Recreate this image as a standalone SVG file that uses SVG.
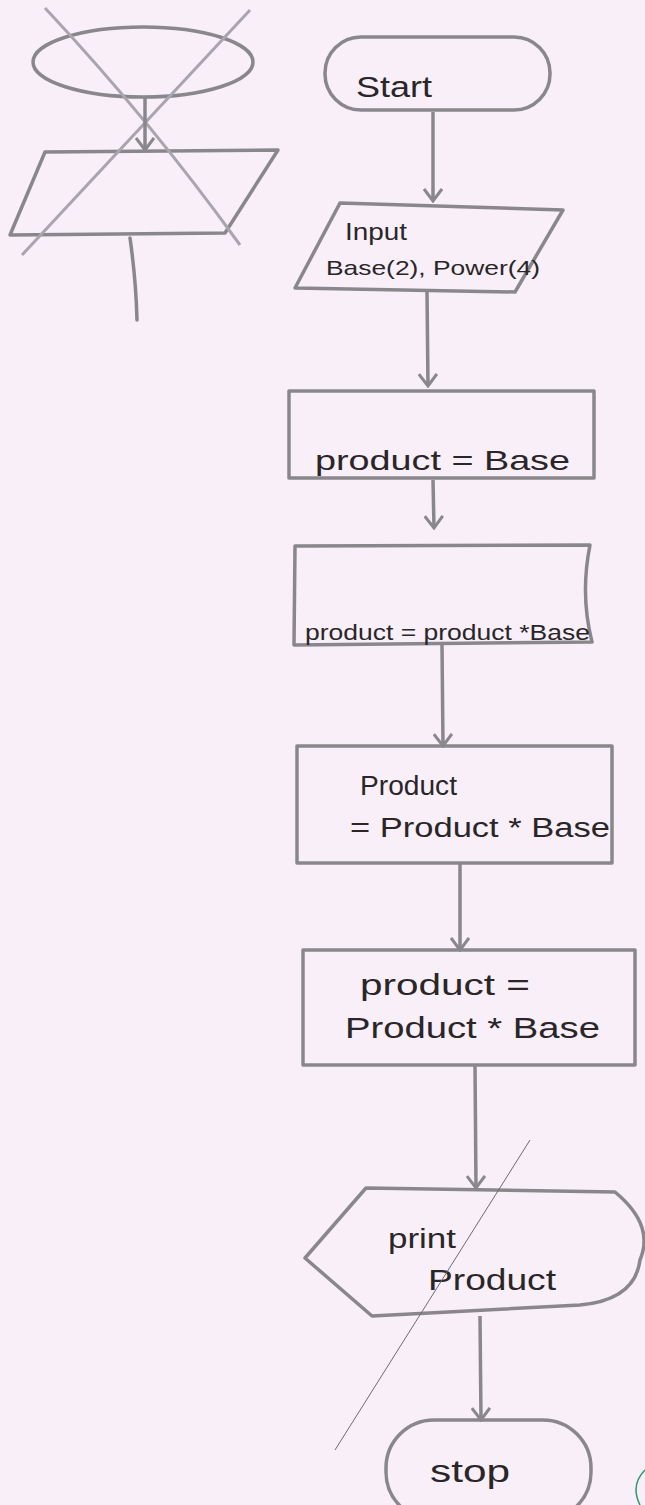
<svg xmlns="http://www.w3.org/2000/svg" width="645" height="1505" viewBox="0 0 645 1505">
<style>
.s{fill:none;stroke:#8a878c;stroke-width:3.5;stroke-linejoin:round;stroke-linecap:round}
.x{fill:none;stroke:#a9a4ad;stroke-width:3}
.t{font-family:"Liberation Sans",Arial,sans-serif;fill:#2a2628}
.c{fill:none;stroke:#8a878c;stroke-width:3.5;marker-end:url(#a)}
</style>
<defs>
<marker id="a" viewBox="0 0 20 20" refX="18" refY="10" markerWidth="20" markerHeight="20" markerUnits="userSpaceOnUse" orient="auto">
<polyline points="6,1 18,10 6,19" fill="none" stroke="#8a878c" stroke-width="3"/>
</marker>
</defs>
<rect width="645" height="1505" fill="#f8eff9"/>
<g id="crossed">
<ellipse cx="143" cy="62" rx="110" ry="35" class="s"/>
<polygon points="45,152 278,150 225,233 10,235" class="s"/>
<path d="M130,238 Q136,280 137,320" class="s"/>
<path d="M45,8 Q150,120 240,245" class="x"/>
<path d="M250,10 L22,255" class="x"/>
</g>
<g id="start">
<rect x="325" y="37" width="225" height="73" rx="36" class="s"/>
<text x="356" y="97" class="t" font-size="30" textLength="76" lengthAdjust="spacingAndGlyphs">Start</text>
</g>
<g id="input">
<polygon points="340,203 563,210 515,292 295,288" class="s"/>
<text x="345" y="240" class="t" font-size="24" textLength="62" lengthAdjust="spacingAndGlyphs">Input</text>
<text x="326" y="275" class="t" font-size="21" textLength="214" lengthAdjust="spacingAndGlyphs">Base(2), Power(4)</text>
</g>
<g id="p1">
<rect x="289" y="391" width="305" height="87" class="s"/>
<text x="315" y="470" class="t" font-size="28" textLength="255" lengthAdjust="spacingAndGlyphs">product = Base</text>
</g>
<g id="p2">
<path d="M295,546 L590,545 Q580,595 592,642 L294,645 Z" class="s"/>
<text x="305" y="640" class="t" font-size="22" textLength="285" lengthAdjust="spacingAndGlyphs">product = product *Base</text>
</g>
<g id="p3">
<rect x="297" y="746" width="315" height="117" class="s"/>
<text x="360" y="795" class="t" font-size="27" textLength="97" lengthAdjust="spacingAndGlyphs">Product</text>
<text x="350" y="837" class="t" font-size="27" textLength="260" lengthAdjust="spacingAndGlyphs">= Product * Base</text>
</g>
<g id="p4">
<rect x="303" y="950" width="332" height="115" class="s"/>
<text x="360" y="995" class="t" font-size="29" textLength="170" lengthAdjust="spacingAndGlyphs">product =</text>
<text x="345" y="1038" class="t" font-size="29" textLength="255" lengthAdjust="spacingAndGlyphs">Product * Base</text>
</g>
<g id="print">
<path d="M366,1188 L615,1192 Q655,1225 640,1260 Q635,1300 580,1305 L372,1316 L305,1258 Z" class="s"/>
<text x="388" y="1248" class="t" font-size="27" textLength="68" lengthAdjust="spacingAndGlyphs">print</text>
<text x="428" y="1290" class="t" font-size="30" textLength="128" lengthAdjust="spacingAndGlyphs">Product</text>
</g>
<g id="stop">
<rect x="386" y="1420" width="205" height="100" rx="48" class="s"/>
<text x="430" y="1482" class="t" font-size="32" textLength="80" lengthAdjust="spacingAndGlyphs">stop</text>
</g>
<g id="connectors">
<line x1="145" y1="97" x2="145" y2="150" class="c"/>
<line x1="433" y1="112" x2="433" y2="201" class="c"/>
<line x1="427" y1="292" x2="428" y2="386" class="c"/>
<line x1="433" y1="480" x2="434" y2="528" class="c"/>
<line x1="442" y1="645" x2="443" y2="746" class="c"/>
<line x1="460" y1="863" x2="460" y2="950" class="c"/>
<line x1="475" y1="1065" x2="476" y2="1188" class="c"/>
<line x1="480" y1="1316" x2="481" y2="1420" class="c"/>
</g>
<line x1="530" y1="1140" x2="335" y2="1450" stroke="#6e6a70" stroke-width="1"/>
<path d="M645,1470 Q630,1485 640,1505" fill="none" stroke="#2a9a6a" stroke-width="1.5"/>
</svg>
